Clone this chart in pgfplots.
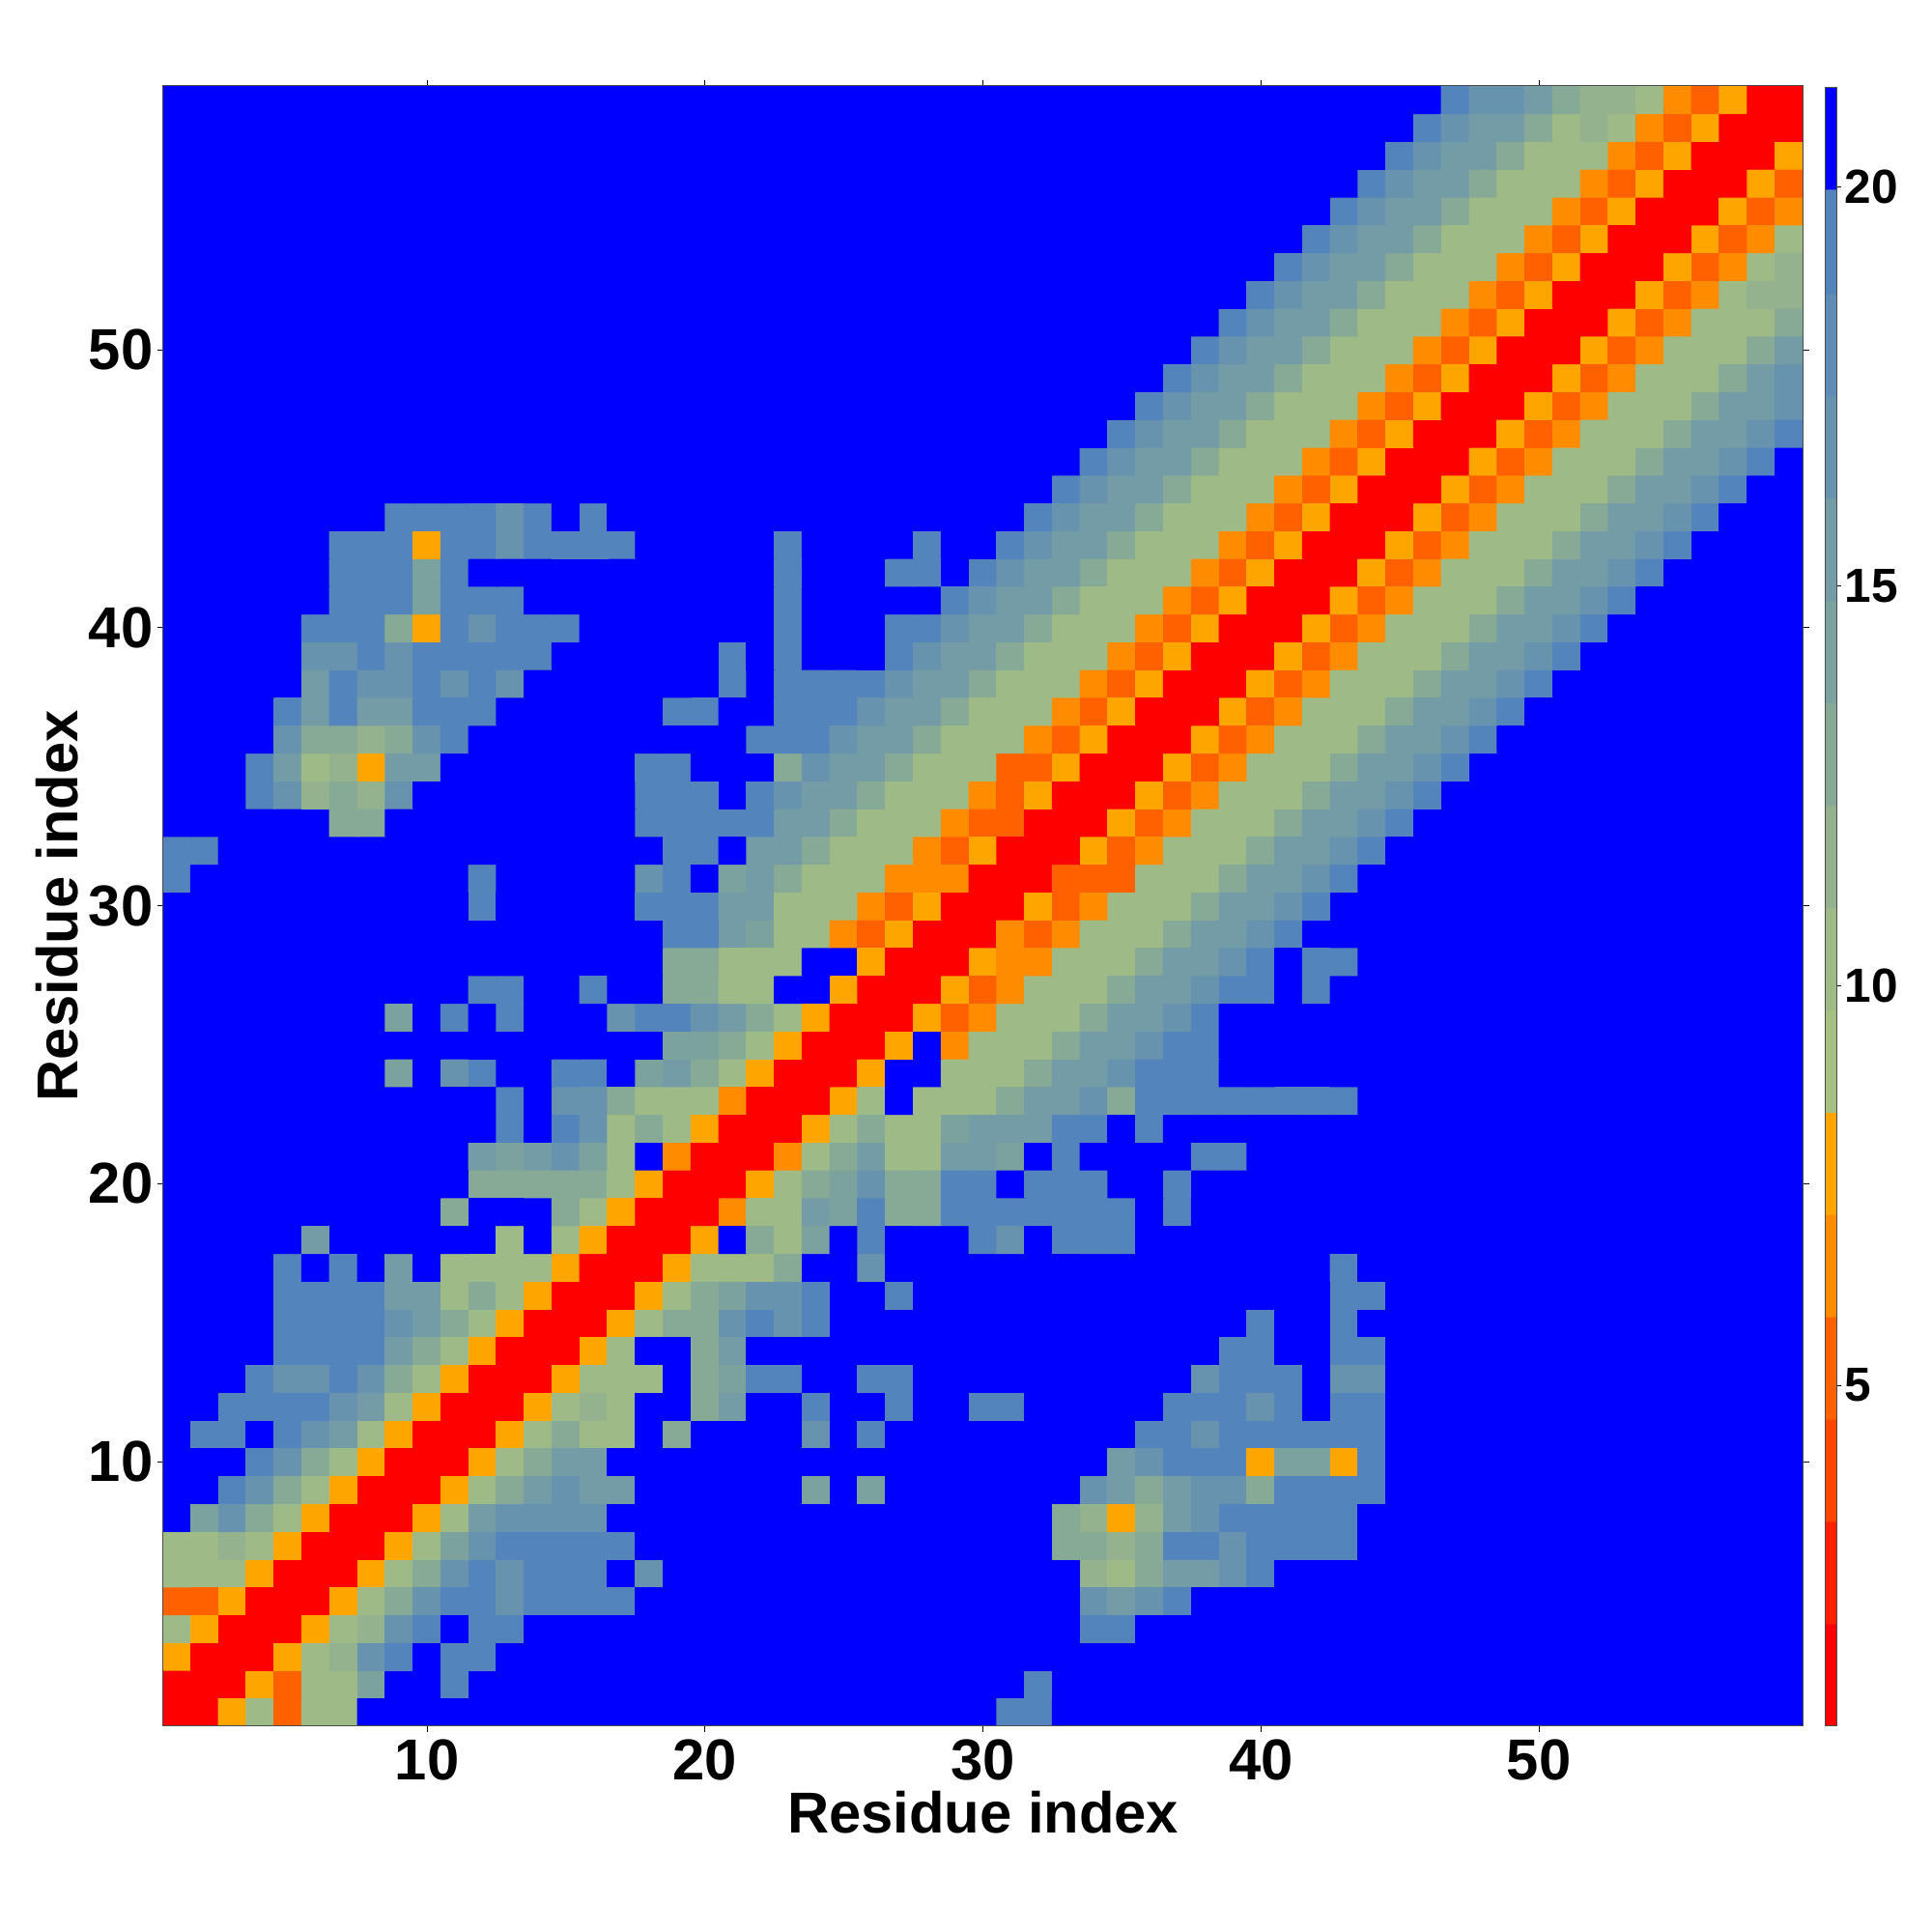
\documentclass[border=0pt]{standalone}
\usepackage{fontspec}
\setmainfont{Liberation Sans}
\usepackage{pgfplots}
\pgfplotsset{compat=1.18}

\pgfplotsset{
  colormap={dist}{
    rgb255(1cm)=(255,0,0) rgb255(3cm)=(255,32,0) rgb255(4cm)=(255,70,0)
    rgb255(5cm)=(255,96,0) rgb255(6cm)=(255,140,0) rgb255(8cm)=(255,165,0)
    rgb255(9cm)=(165,192,128) rgb255(10cm)=(158,186,135) rgb255(11cm)=(148,178,142)
    rgb255(13cm)=(135,170,150) rgb255(14cm)=(124,162,158) rgb255(15cm)=(116,156,166)
    rgb255(17cm)=(104,147,174) rgb255(18cm)=(94,140,180) rgb255(19cm)=(84,132,188)
    rgb255(21cm)=(0,0,255)
  },
}

\begin{document}
\begin{tikzpicture}
\useasboundingbox (0,0) rectangle (20cm,20cm);
\begin{axis}[
    at={(1.688cm,2.135cm)}, anchor=south west,
    scale only axis, width=16.977cm, height=16.978cm,
    xmin=0.5, xmax=59.5, ymin=0.5, ymax=59.5,
    xtick={10,20,30,40,50}, ytick={10,20,30,40,50},
    tick align=outside, major tick length=0.6mm,
    tick style={black, line width=0.1mm},
    axis line style={line width=0.1mm, black!70},
    axis on top,
    /pgf/number format/assume math mode=true,
    tick label style={font=\fontsize{17}{20}\selectfont\bfseries},
    xticklabel pos=lower, yticklabel pos=left,
    x tick label style={yshift=0.4mm},
    y tick label style={xshift=0.8mm},
    label style={font=\fontsize{17}{20}\selectfont\bfseries},
    xlabel={Residue index}, ylabel={Residue index},
    xlabel style={at={(axis description cs:0.5,0)}, anchor=center, yshift=-8.95mm},
    ylabel style={at={(axis description cs:0,0.5)}, anchor=center, yshift=11mm},
    colormap name=dist, point meta min=1, point meta max=21,
]
\addplot[matrix plot*, mesh/cols=59, point meta=\thisrowno{0}]
  table[row sep=crcr, header=false,
        x expr={mod(\coordindex,59)+1},
        y expr={(\coordindex-mod(\coordindex,59))/59+1}, y index=0] {
1\\1\\8\\10\\5\\10\\10\\21\\21\\21\\ 21\\21\\21\\21\\21\\21\\21\\21\\21\\21\\ 21\\21\\21\\21\\21\\21\\21\\21\\21\\21\\ 19\\19\\21\\21\\21\\21\\21\\21\\21\\21\\ 21\\21\\21\\21\\21\\21\\21\\21\\21\\21\\ 21\\21\\21\\21\\21\\21\\21\\21\\21\\
1\\1\\1\\8\\5\\10\\10\\14\\21\\21\\ 19\\21\\21\\21\\21\\21\\21\\21\\21\\21\\ 21\\21\\21\\21\\21\\21\\21\\21\\21\\21\\ 21\\19\\21\\21\\21\\21\\21\\21\\21\\21\\ 21\\21\\21\\21\\21\\21\\21\\21\\21\\21\\ 21\\21\\21\\21\\21\\21\\21\\21\\21\\
8\\1\\1\\1\\8\\10\\11\\17\\19\\21\\ 19\\19\\21\\21\\21\\21\\21\\21\\21\\21\\ 21\\21\\21\\21\\21\\21\\21\\21\\21\\21\\ 21\\21\\21\\21\\21\\21\\21\\21\\21\\21\\ 21\\21\\21\\21\\21\\21\\21\\21\\21\\21\\ 21\\21\\21\\21\\21\\21\\21\\21\\21\\
10\\8\\1\\1\\1\\8\\10\\11\\17\\19\\ 21\\19\\19\\21\\21\\21\\21\\21\\21\\21\\ 21\\21\\21\\21\\21\\21\\21\\21\\21\\21\\ 21\\21\\21\\19\\19\\21\\21\\21\\21\\21\\ 21\\21\\21\\21\\21\\21\\21\\21\\21\\21\\ 21\\21\\21\\21\\21\\21\\21\\21\\21\\
5\\5\\8\\1\\1\\1\\8\\10\\13\\17\\ 19\\19\\17\\19\\19\\19\\19\\21\\21\\21\\ 21\\21\\21\\21\\21\\21\\21\\21\\21\\21\\ 21\\21\\21\\17\\15\\17\\19\\21\\21\\21\\ 21\\21\\21\\21\\21\\21\\21\\21\\21\\21\\ 21\\21\\21\\21\\21\\21\\21\\21\\21\\
10\\10\\10\\8\\1\\1\\1\\8\\10\\13\\ 17\\19\\17\\19\\19\\19\\21\\17\\21\\21\\ 21\\21\\21\\21\\21\\21\\21\\21\\21\\21\\ 21\\21\\21\\11\\10\\13\\15\\15\\17\\19\\ 21\\21\\21\\21\\21\\21\\21\\21\\21\\21\\ 21\\21\\21\\21\\21\\21\\21\\21\\21\\
10\\10\\11\\10\\8\\1\\1\\1\\8\\10\\ 14\\17\\19\\19\\19\\19\\19\\21\\21\\21\\ 21\\21\\21\\21\\21\\21\\21\\21\\21\\21\\ 21\\21\\13\\13\\11\\13\\19\\19\\17\\19\\ 19\\19\\19\\21\\21\\21\\21\\21\\21\\21\\ 21\\21\\21\\21\\21\\21\\21\\21\\21\\
21\\14\\17\\13\\10\\8\\1\\1\\1\\8\\ 10\\15\\17\\17\\17\\17\\21\\21\\21\\21\\ 21\\21\\21\\21\\21\\21\\21\\21\\21\\21\\ 21\\21\\13\\11\\8\\11\\15\\17\\19\\19\\ 19\\19\\19\\21\\21\\21\\21\\21\\21\\21\\ 21\\21\\21\\21\\21\\21\\21\\21\\21\\
21\\21\\19\\17\\13\\10\\8\\1\\1\\1\\ 8\\10\\13\\15\\17\\15\\15\\21\\21\\21\\ 21\\21\\21\\14\\21\\14\\21\\21\\21\\21\\ 21\\21\\21\\17\\15\\13\\15\\17\\17\\13\\ 19\\19\\19\\19\\21\\21\\21\\21\\21\\21\\ 21\\21\\21\\21\\21\\21\\21\\21\\21\\
21\\21\\21\\19\\17\\13\\10\\8\\1\\1\\ 1\\8\\10\\13\\15\\15\\21\\21\\21\\21\\ 21\\21\\21\\21\\21\\21\\21\\21\\21\\21\\ 21\\21\\21\\21\\15\\17\\19\\19\\19\\8\\ 14\\14\\8\\19\\21\\21\\21\\21\\21\\21\\ 21\\21\\21\\21\\21\\21\\21\\21\\21\\
21\\19\\19\\21\\19\\17\\15\\10\\8\\1\\ 1\\1\\8\\10\\13\\10\\10\\21\\13\\21\\ 21\\21\\21\\17\\21\\19\\21\\21\\21\\21\\ 21\\21\\21\\21\\21\\19\\19\\17\\19\\19\\ 19\\19\\19\\19\\21\\21\\21\\21\\21\\21\\ 21\\21\\21\\21\\21\\21\\21\\21\\21\\
21\\21\\19\\19\\19\\19\\17\\15\\10\\8\\ 1\\1\\1\\8\\10\\11\\10\\21\\21\\13\\ 15\\21\\21\\19\\21\\21\\19\\21\\21\\19\\ 19\\21\\21\\21\\21\\21\\19\\19\\19\\17\\ 19\\21\\19\\19\\21\\21\\21\\21\\21\\21\\ 21\\21\\21\\21\\21\\21\\21\\21\\21\\
21\\21\\21\\19\\17\\17\\19\\17\\13\\10\\ 8\\1\\1\\1\\8\\10\\10\\10\\21\\13\\ 14\\19\\19\\21\\21\\19\\19\\21\\21\\21\\ 21\\21\\21\\21\\21\\21\\21\\17\\19\\19\\ 19\\21\\17\\17\\21\\21\\21\\21\\21\\21\\ 21\\21\\21\\21\\21\\21\\21\\21\\21\\
21\\21\\21\\21\\19\\19\\19\\19\\15\\13\\ 10\\8\\1\\1\\1\\8\\10\\21\\21\\13\\ 15\\21\\21\\21\\21\\21\\21\\21\\21\\21\\ 21\\21\\21\\21\\21\\21\\21\\21\\19\\19\\ 21\\21\\19\\19\\21\\21\\21\\21\\21\\21\\ 21\\21\\21\\21\\21\\21\\21\\21\\21\\
21\\21\\21\\21\\19\\19\\19\\19\\17\\15\\ 13\\10\\8\\1\\1\\1\\8\\10\\13\\13\\ 17\\19\\17\\19\\21\\21\\21\\21\\21\\21\\ 21\\21\\21\\21\\21\\21\\21\\21\\21\\19\\ 21\\21\\19\\21\\21\\21\\21\\21\\21\\21\\ 21\\21\\21\\21\\21\\21\\21\\21\\21\\
21\\21\\21\\21\\19\\19\\19\\19\\15\\15\\ 10\\13\\10\\8\\1\\1\\1\\8\\10\\13\\ 14\\17\\17\\19\\21\\21\\19\\21\\21\\21\\ 21\\21\\21\\21\\21\\21\\21\\21\\21\\21\\ 21\\21\\19\\19\\21\\21\\21\\21\\21\\21\\ 21\\21\\21\\21\\21\\21\\21\\21\\21\\
21\\21\\21\\21\\19\\21\\19\\21\\15\\21\\ 10\\10\\10\\10\\8\\1\\1\\1\\8\\10\\ 10\\10\\13\\21\\21\\17\\21\\21\\21\\21\\ 21\\21\\21\\21\\21\\21\\21\\21\\21\\21\\ 21\\21\\19\\21\\21\\21\\21\\21\\21\\21\\ 21\\21\\21\\21\\21\\21\\21\\21\\21\\
21\\21\\21\\21\\21\\15\\21\\21\\21\\21\\ 21\\21\\10\\21\\10\\8\\1\\1\\1\\8\\ 21\\13\\10\\14\\21\\19\\21\\21\\21\\19\\ 17\\21\\19\\19\\19\\21\\21\\21\\21\\21\\ 21\\21\\21\\21\\21\\21\\21\\21\\21\\21\\ 21\\21\\21\\21\\21\\21\\21\\21\\21\\
21\\21\\21\\21\\21\\21\\21\\21\\21\\21\\ 13\\21\\21\\21\\13\\10\\8\\1\\1\\1\\ 6\\10\\10\\15\\14\\19\\13\\13\\19\\19\\ 19\\19\\19\\19\\19\\21\\19\\21\\21\\21\\ 21\\21\\21\\21\\21\\21\\21\\21\\21\\21\\ 21\\21\\21\\21\\21\\21\\21\\21\\21\\
21\\21\\21\\21\\21\\21\\21\\21\\21\\21\\ 21\\13\\13\\13\\13\\13\\10\\8\\1\\1\\ 1\\8\\10\\13\\14\\17\\13\\13\\19\\19\\ 21\\19\\19\\19\\21\\21\\19\\21\\21\\21\\ 21\\21\\21\\21\\21\\21\\21\\21\\21\\21\\ 21\\21\\21\\21\\21\\21\\21\\21\\21\\
21\\21\\21\\21\\21\\21\\21\\21\\21\\21\\ 21\\15\\14\\15\\17\\14\\10\\21\\6\\1\\ 1\\1\\6\\10\\13\\15\\10\\10\\15\\15\\ 14\\21\\19\\21\\21\\21\\21\\19\\19\\21\\ 21\\21\\21\\21\\21\\21\\21\\21\\21\\21\\ 21\\21\\21\\21\\21\\21\\21\\21\\21\\
21\\21\\21\\21\\21\\21\\21\\21\\21\\21\\ 21\\21\\19\\21\\19\\17\\10\\13\\10\\8\\ 1\\1\\1\\8\\10\\13\\10\\10\\14\\15\\ 15\\15\\19\\19\\21\\19\\21\\21\\21\\21\\ 21\\21\\21\\21\\21\\21\\21\\21\\21\\21\\ 21\\21\\21\\21\\21\\21\\21\\21\\21\\
21\\21\\21\\21\\21\\21\\21\\21\\21\\21\\ 21\\21\\19\\21\\17\\17\\13\\10\\10\\10\\ 6\\1\\1\\1\\8\\10\\21\\10\\10\\10\\ 13\\15\\15\\17\\13\\19\\19\\19\\19\\19\\ 19\\19\\19\\21\\21\\21\\21\\21\\21\\21\\ 21\\21\\21\\21\\21\\21\\21\\21\\21\\
21\\21\\21\\21\\21\\21\\21\\21\\14\\21\\ 17\\19\\21\\21\\19\\19\\21\\14\\15\\13\\ 10\\8\\1\\1\\1\\8\\21\\21\\10\\10\\ 10\\13\\15\\15\\17\\19\\19\\19\\21\\21\\ 21\\21\\21\\21\\21\\21\\21\\21\\21\\21\\ 21\\21\\21\\21\\21\\21\\21\\21\\21\\
21\\21\\21\\21\\21\\21\\21\\21\\21\\21\\ 21\\21\\21\\21\\21\\21\\21\\21\\14\\14\\ 13\\10\\8\\1\\1\\1\\8\\21\\6\\10\\ 10\\10\\13\\15\\15\\17\\19\\19\\21\\21\\ 21\\21\\21\\21\\21\\21\\21\\21\\21\\21\\ 21\\21\\21\\21\\21\\21\\21\\21\\21\\
21\\21\\21\\21\\21\\21\\21\\21\\14\\21\\ 19\\21\\19\\21\\21\\21\\17\\19\\19\\17\\ 15\\13\\10\\8\\1\\1\\1\\8\\5\\6\\ 10\\10\\10\\13\\15\\15\\17\\19\\21\\21\\ 21\\21\\21\\21\\21\\21\\21\\21\\21\\21\\ 21\\21\\21\\21\\21\\21\\21\\21\\21\\
21\\21\\21\\21\\21\\21\\21\\21\\21\\21\\ 21\\19\\19\\21\\21\\19\\21\\21\\13\\13\\ 10\\10\\21\\21\\8\\1\\1\\1\\8\\5\\ 6\\10\\10\\10\\13\\15\\15\\17\\19\\19\\ 21\\19\\21\\21\\21\\21\\21\\21\\21\\21\\ 21\\21\\21\\21\\21\\21\\21\\21\\21\\
21\\21\\21\\21\\21\\21\\21\\21\\21\\21\\ 21\\21\\21\\21\\21\\21\\21\\21\\13\\13\\ 10\\10\\10\\21\\21\\8\\1\\1\\1\\8\\ 6\\6\\10\\10\\10\\13\\15\\15\\17\\19\\ 21\\19\\19\\21\\21\\21\\21\\21\\21\\21\\ 21\\21\\21\\21\\21\\21\\21\\21\\21\\
21\\21\\21\\21\\21\\21\\21\\21\\21\\21\\ 21\\21\\21\\21\\21\\21\\21\\21\\19\\19\\ 15\\14\\10\\10\\6\\5\\8\\1\\1\\1\\ 6\\5\\6\\10\\10\\10\\13\\15\\15\\17\\ 19\\21\\21\\21\\21\\21\\21\\21\\21\\21\\ 21\\21\\21\\21\\21\\21\\21\\21\\21\\
21\\21\\21\\21\\21\\21\\21\\21\\21\\21\\ 21\\19\\21\\21\\21\\21\\21\\19\\19\\19\\ 15\\15\\10\\10\\10\\6\\5\\8\\1\\1\\ 1\\8\\5\\6\\10\\10\\10\\13\\15\\15\\ 17\\19\\21\\21\\21\\21\\21\\21\\21\\21\\ 21\\21\\21\\21\\21\\21\\21\\21\\21\\
19\\21\\21\\21\\21\\21\\21\\21\\21\\21\\ 21\\19\\21\\21\\21\\21\\21\\17\\19\\21\\ 14\\15\\13\\10\\10\\10\\6\\6\\6\\1\\ 1\\1\\5\\5\\5\\10\\10\\10\\13\\15\\ 15\\17\\19\\21\\21\\21\\21\\21\\21\\21\\ 21\\21\\21\\21\\21\\21\\21\\21\\21\\
19\\19\\21\\21\\21\\21\\21\\21\\21\\21\\ 21\\21\\21\\21\\21\\21\\21\\21\\19\\19\\ 21\\15\\15\\13\\10\\10\\10\\6\\5\\8\\ 1\\1\\1\\8\\5\\6\\10\\10\\10\\13\\ 15\\15\\17\\19\\21\\21\\21\\21\\21\\21\\ 21\\21\\21\\21\\21\\21\\21\\21\\21\\
21\\21\\21\\21\\21\\21\\13\\13\\21\\21\\ 21\\21\\21\\21\\21\\21\\21\\19\\19\\19\\ 19\\19\\15\\15\\13\\10\\10\\10\\6\\5\\ 5\\1\\1\\1\\8\\5\\6\\10\\10\\10\\ 13\\15\\15\\17\\19\\21\\21\\21\\21\\21\\ 21\\21\\21\\21\\21\\21\\21\\21\\21\\
21\\21\\21\\19\\17\\11\\13\\11\\17\\21\\ 21\\21\\21\\21\\21\\21\\21\\19\\19\\19\\ 21\\19\\17\\15\\15\\13\\10\\10\\10\\6\\ 5\\8\\1\\1\\1\\8\\5\\6\\10\\10\\ 10\\13\\15\\15\\17\\19\\21\\21\\21\\21\\ 21\\21\\21\\21\\21\\21\\21\\21\\21\\
21\\21\\21\\19\\15\\10\\11\\8\\15\\15\\ 21\\21\\21\\21\\21\\21\\21\\19\\19\\21\\ 21\\21\\13\\17\\15\\15\\13\\10\\10\\10\\ 5\\5\\8\\1\\1\\1\\8\\5\\6\\10\\ 10\\10\\13\\15\\15\\17\\19\\21\\21\\21\\ 21\\21\\21\\21\\21\\21\\21\\21\\21\\
21\\21\\21\\21\\17\\13\\13\\11\\13\\17\\ 19\\21\\21\\21\\21\\21\\21\\21\\21\\21\\ 21\\19\\19\\19\\17\\15\\15\\13\\10\\10\\ 10\\6\\5\\8\\1\\1\\1\\8\\5\\6\\ 10\\10\\10\\13\\15\\15\\17\\19\\21\\21\\ 21\\21\\21\\21\\21\\21\\21\\21\\21\\
21\\21\\21\\21\\19\\15\\19\\15\\15\\19\\ 19\\19\\21\\21\\21\\21\\21\\21\\19\\19\\ 21\\21\\19\\19\\19\\17\\15\\15\\13\\10\\ 10\\10\\6\\5\\8\\1\\1\\1\\8\\5\\ 6\\10\\10\\10\\13\\15\\15\\17\\19\\21\\ 21\\21\\21\\21\\21\\21\\21\\21\\21\\
21\\21\\21\\21\\21\\15\\19\\17\\17\\19\\ 17\\19\\17\\21\\21\\21\\21\\21\\21\\21\\ 19\\21\\19\\19\\19\\19\\17\\15\\15\\13\\ 10\\10\\10\\6\\5\\8\\1\\1\\1\\8\\ 5\\6\\10\\10\\10\\13\\15\\15\\17\\19\\ 21\\21\\21\\21\\21\\21\\21\\21\\21\\
21\\21\\21\\21\\21\\17\\17\\19\\17\\19\\ 19\\19\\19\\19\\21\\21\\21\\21\\21\\21\\ 19\\21\\19\\21\\21\\21\\19\\17\\15\\15\\ 13\\10\\10\\10\\6\\5\\8\\1\\1\\1\\ 8\\5\\6\\10\\10\\10\\13\\15\\15\\17\\ 19\\21\\21\\21\\21\\21\\21\\21\\21\\
21\\21\\21\\21\\21\\19\\19\\19\\13\\8\\ 19\\17\\19\\19\\19\\21\\21\\21\\21\\21\\ 21\\21\\19\\21\\21\\21\\19\\19\\17\\15\\ 15\\13\\10\\10\\10\\6\\5\\8\\1\\1\\ 1\\8\\5\\6\\10\\10\\10\\13\\15\\15\\ 17\\19\\21\\21\\21\\21\\21\\21\\21\\
21\\21\\21\\21\\21\\21\\19\\19\\19\\14\\ 19\\19\\19\\21\\21\\21\\21\\21\\21\\21\\ 21\\21\\19\\21\\21\\21\\21\\21\\19\\17\\ 15\\15\\13\\10\\10\\10\\6\\5\\8\\1\\ 1\\1\\8\\5\\6\\10\\10\\10\\13\\15\\ 15\\17\\19\\21\\21\\21\\21\\21\\21\\
21\\21\\21\\21\\21\\21\\19\\19\\19\\14\\ 19\\21\\21\\21\\21\\21\\21\\21\\21\\21\\ 21\\21\\19\\21\\21\\21\\19\\19\\21\\19\\ 17\\15\\15\\13\\10\\10\\10\\6\\5\\8\\ 1\\1\\1\\8\\5\\6\\10\\10\\10\\13\\ 15\\15\\17\\19\\21\\21\\21\\21\\21\\
21\\21\\21\\21\\21\\21\\19\\19\\19\\8\\ 19\\19\\17\\19\\19\\19\\19\\21\\21\\21\\ 21\\21\\19\\21\\21\\21\\21\\19\\21\\21\\ 19\\17\\15\\15\\13\\10\\10\\10\\6\\5\\ 8\\1\\1\\1\\8\\5\\6\\10\\10\\10\\ 13\\15\\15\\17\\19\\21\\21\\21\\21\\
21\\21\\21\\21\\21\\21\\21\\21\\19\\19\\ 19\\19\\17\\19\\21\\19\\21\\21\\21\\21\\ 21\\21\\21\\21\\21\\21\\21\\21\\21\\21\\ 21\\19\\17\\15\\15\\13\\10\\10\\10\\6\\ 5\\8\\1\\1\\1\\8\\5\\6\\10\\10\\ 10\\13\\15\\15\\17\\19\\21\\21\\21\\
21\\21\\21\\21\\21\\21\\21\\21\\21\\21\\ 21\\21\\21\\21\\21\\21\\21\\21\\21\\21\\ 21\\21\\21\\21\\21\\21\\21\\21\\21\\21\\ 21\\21\\19\\17\\15\\15\\13\\10\\10\\10\\ 6\\5\\8\\1\\1\\1\\8\\5\\6\\10\\ 10\\10\\13\\15\\15\\17\\19\\21\\21\\
21\\21\\21\\21\\21\\21\\21\\21\\21\\21\\ 21\\21\\21\\21\\21\\21\\21\\21\\21\\21\\ 21\\21\\21\\21\\21\\21\\21\\21\\21\\21\\ 21\\21\\21\\19\\17\\15\\15\\13\\10\\10\\ 10\\6\\5\\8\\1\\1\\1\\8\\5\\6\\ 10\\10\\10\\13\\15\\15\\17\\19\\21\\
21\\21\\21\\21\\21\\21\\21\\21\\21\\21\\ 21\\21\\21\\21\\21\\21\\21\\21\\21\\21\\ 21\\21\\21\\21\\21\\21\\21\\21\\21\\21\\ 21\\21\\21\\21\\19\\17\\15\\15\\13\\10\\ 10\\10\\6\\5\\8\\1\\1\\1\\8\\5\\ 6\\10\\10\\10\\13\\15\\15\\17\\19\\
21\\21\\21\\21\\21\\21\\21\\21\\21\\21\\ 21\\21\\21\\21\\21\\21\\21\\21\\21\\21\\ 21\\21\\21\\21\\21\\21\\21\\21\\21\\21\\ 21\\21\\21\\21\\21\\19\\17\\15\\15\\13\\ 10\\10\\10\\6\\5\\8\\1\\1\\1\\8\\ 5\\6\\10\\10\\10\\13\\15\\15\\17\\
21\\21\\21\\21\\21\\21\\21\\21\\21\\21\\ 21\\21\\21\\21\\21\\21\\21\\21\\21\\21\\ 21\\21\\21\\21\\21\\21\\21\\21\\21\\21\\ 21\\21\\21\\21\\21\\21\\19\\17\\15\\15\\ 13\\10\\10\\10\\6\\5\\8\\1\\1\\1\\ 8\\5\\6\\10\\10\\10\\13\\15\\17\\
21\\21\\21\\21\\21\\21\\21\\21\\21\\21\\ 21\\21\\21\\21\\21\\21\\21\\21\\21\\21\\ 21\\21\\21\\21\\21\\21\\21\\21\\21\\21\\ 21\\21\\21\\21\\21\\21\\21\\19\\17\\15\\ 15\\13\\10\\10\\10\\6\\5\\8\\1\\1\\ 1\\8\\5\\6\\10\\10\\10\\13\\15\\
21\\21\\21\\21\\21\\21\\21\\21\\21\\21\\ 21\\21\\21\\21\\21\\21\\21\\21\\21\\21\\ 21\\21\\21\\21\\21\\21\\21\\21\\21\\21\\ 21\\21\\21\\21\\21\\21\\21\\21\\19\\17\\ 15\\15\\13\\10\\10\\10\\6\\5\\8\\1\\ 1\\1\\8\\5\\6\\10\\10\\10\\13\\
21\\21\\21\\21\\21\\21\\21\\21\\21\\21\\ 21\\21\\21\\21\\21\\21\\21\\21\\21\\21\\ 21\\21\\21\\21\\21\\21\\21\\21\\21\\21\\ 21\\21\\21\\21\\21\\21\\21\\21\\21\\19\\ 17\\15\\15\\13\\10\\10\\10\\6\\5\\8\\ 1\\1\\1\\8\\5\\6\\10\\11\\11\\
21\\21\\21\\21\\21\\21\\21\\21\\21\\21\\ 21\\21\\21\\21\\21\\21\\21\\21\\21\\21\\ 21\\21\\21\\21\\21\\21\\21\\21\\21\\21\\ 21\\21\\21\\21\\21\\21\\21\\21\\21\\21\\ 19\\17\\15\\15\\13\\10\\10\\10\\6\\5\\ 8\\1\\1\\1\\8\\5\\6\\10\\11\\
21\\21\\21\\21\\21\\21\\21\\21\\21\\21\\ 21\\21\\21\\21\\21\\21\\21\\21\\21\\21\\ 21\\21\\21\\21\\21\\21\\21\\21\\21\\21\\ 21\\21\\21\\21\\21\\21\\21\\21\\21\\21\\ 21\\19\\17\\15\\15\\13\\10\\10\\10\\6\\ 5\\8\\1\\1\\1\\8\\5\\6\\10\\
21\\21\\21\\21\\21\\21\\21\\21\\21\\21\\ 21\\21\\21\\21\\21\\21\\21\\21\\21\\21\\ 21\\21\\21\\21\\21\\21\\21\\21\\21\\21\\ 21\\21\\21\\21\\21\\21\\21\\21\\21\\21\\ 21\\21\\19\\17\\15\\15\\13\\10\\10\\10\\ 6\\5\\8\\1\\1\\1\\8\\5\\6\\
21\\21\\21\\21\\21\\21\\21\\21\\21\\21\\ 21\\21\\21\\21\\21\\21\\21\\21\\21\\21\\ 21\\21\\21\\21\\21\\21\\21\\21\\21\\21\\ 21\\21\\21\\21\\21\\21\\21\\21\\21\\21\\ 21\\21\\21\\19\\17\\15\\15\\13\\10\\10\\ 10\\6\\5\\8\\1\\1\\1\\8\\5\\
21\\21\\21\\21\\21\\21\\21\\21\\21\\21\\ 21\\21\\21\\21\\21\\21\\21\\21\\21\\21\\ 21\\21\\21\\21\\21\\21\\21\\21\\21\\21\\ 21\\21\\21\\21\\21\\21\\21\\21\\21\\21\\ 21\\21\\21\\21\\19\\17\\15\\15\\13\\10\\ 10\\10\\6\\5\\8\\1\\1\\1\\8\\
21\\21\\21\\21\\21\\21\\21\\21\\21\\21\\ 21\\21\\21\\21\\21\\21\\21\\21\\21\\21\\ 21\\21\\21\\21\\21\\21\\21\\21\\21\\21\\ 21\\21\\21\\21\\21\\21\\21\\21\\21\\21\\ 21\\21\\21\\21\\21\\19\\17\\15\\15\\13\\ 10\\11\\10\\6\\5\\8\\1\\1\\1\\
21\\21\\21\\21\\21\\21\\21\\21\\21\\21\\ 21\\21\\21\\21\\21\\21\\21\\21\\21\\21\\ 21\\21\\21\\21\\21\\21\\21\\21\\21\\21\\ 21\\21\\21\\21\\21\\21\\21\\21\\21\\21\\ 21\\21\\21\\21\\21\\21\\19\\17\\17\\15\\ 13\\11\\11\\10\\6\\5\\8\\1\\1\\
};
\end{axis}
\begin{axis}[
    at={(18.89cm,2.135cm)}, anchor=south west,
    scale only axis, width=0.127cm, height=16.96cm,
    xmin=0, xmax=1, ymin=0.74, ymax=21.24,
    xtick=\empty, ytick={5,10,15,20},
    ytick pos=right, yticklabel pos=right,
    tick align=outside, major tick length=0.45mm,
    tick style={black, line width=0.1mm},
    axis line style={line width=0.1mm, black!70},
    axis on top,
    /pgf/number format/assume math mode=true,
    tick label style={font=\fontsize{14.1}{17}\selectfont\bfseries},
    y tick label style={xshift=-0.9mm},
    colormap name=dist, point meta min=1, point meta max=21,
]
\addplot[matrix plot*, mesh/cols=2, point meta=\thisrow{c}] table {
x y c
0 1.38 1
1 1.38 1
0 2.66 3
1 2.66 3
0 3.94 4
1 3.94 4
0 5.22 5
1 5.22 5
0 6.50 6
1 6.50 6
0 7.78 8
1 7.78 8
0 9.06 9
1 9.06 9
0 10.34 10
1 10.34 10
0 11.62 11
1 11.62 11
0 12.90 13
1 12.90 13
0 14.18 14
1 14.18 14
0 15.46 15
1 15.46 15
0 16.74 17
1 16.74 17
0 18.02 18
1 18.02 18
0 19.30 19
1 19.30 19
0 20.64 21
1 20.64 21
};
\end{axis}
\end{tikzpicture}
\end{document}
